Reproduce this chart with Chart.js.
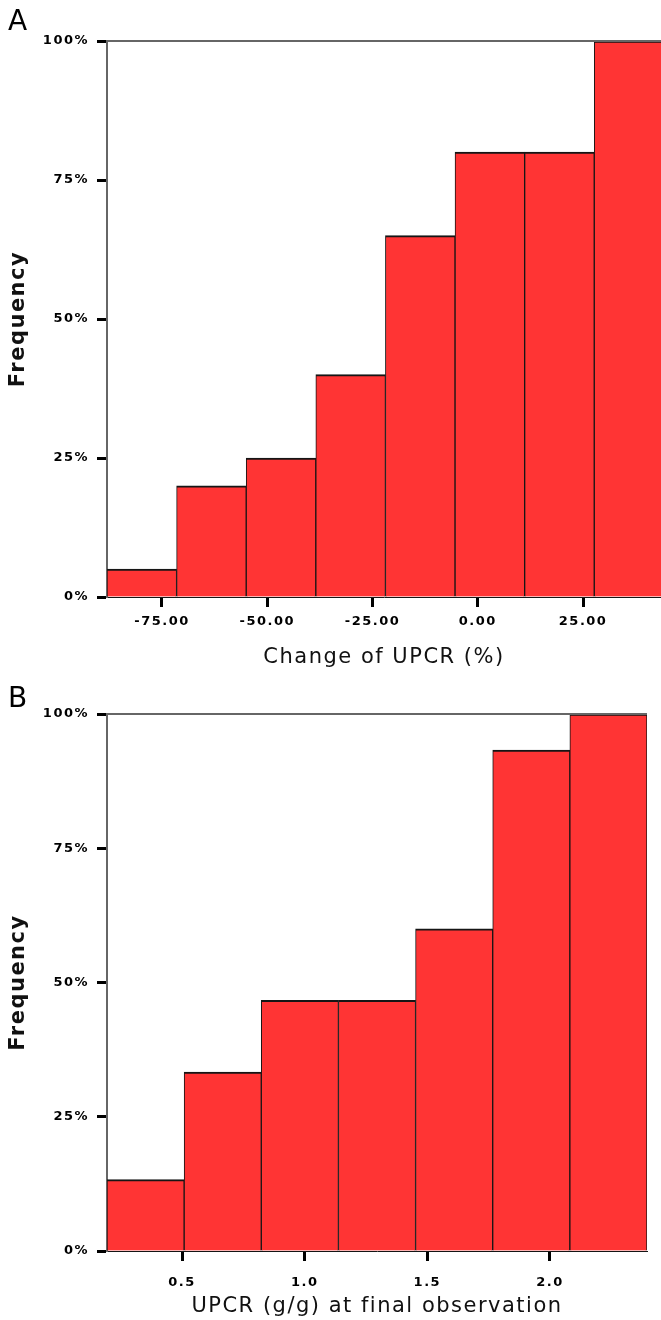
<!DOCTYPE html>
<html>
<head>
<meta charset="utf-8">
<script src="https://cdn.jsdelivr.net/npm/chart.js@4.4.0/dist/chart.umd.min.js"></script>
<style>
  body { margin: 0; background: #fff; }
  canvas { display: block; }
</style>
</head>
<body>
<canvas id="chartA" width="661" height="680"></canvas>
<canvas id="chartB" width="661" height="640"></canvas>
<script>
// panel A: change of UPCR (%), cumulative frequency
const edgesA = [-88.06, -71.53, -55.00, -38.47, -21.94, -5.41, 11.12, 27.65, 44.18];
const freqA = [5, 20, 25, 40, 65, 80, 80, 100];
const xTicksA = [-75, -50, -25, 0, 25];

// panel B: UPCR (g/g) at final observation
const edgesB = [0.194, 0.5085, 0.823, 1.1375, 1.452, 1.7665, 2.081, 2.3955];
const freqB = [13.3, 33.3, 46.7, 46.7, 60, 93.3, 100];
const xTicksB = [0.5, 1.0, 1.5, 2.0];

const yTicks = [0, 25, 50, 75, 100];

const spacing = {
    id: 'spacing',
    beforeUpdate(c) { c.ctx.letterSpacing = '1.5px'; },
    beforeDraw(c) { c.ctx.letterSpacing = '1.5px'; }
};

const topLine = {
    id: 'topLine',
    afterDraw(c) {
        const a = c.chartArea, ctx = c.ctx;
        ctx.save();
        ctx.strokeStyle = '#666';
        ctx.lineWidth = 2;
        ctx.beginPath();
        ctx.moveTo(a.left - 1, a.top);
        ctx.lineTo(a.right, a.top);
        ctx.stroke();
        ctx.restore();
    }
};

function histogram(id, o) {
    const pts = o.freq.map((v, i) => ({x: (o.edges[i] + o.edges[i + 1]) / 2, y: v}));
    return new Chart(document.getElementById(id), {
        type: 'bar',
        data: {
            datasets: [{
                data: pts,
                backgroundColor: '#ff3434',
                borderColor: '#151515',
                borderWidth: {top: 2, left: 1, right: 1, bottom: 0},
                borderSkipped: false,
                barPercentage: 1,
                categoryPercentage: 1
            }]
        },
        options: {
            responsive: false,
            animation: false,
            layout: {padding: {left: 8, right: o.padRight, top: 0, bottom: 0}},
            plugins: {
                legend: {display: false},
                tooltip: {enabled: false},
                title: {
                    display: true,
                    text: o.letter,
                    align: 'start',
                    color: '#000',
                    font: {family: 'DejaVu Sans', size: 28, weight: 'normal', lineHeight: 1},
                    padding: {top: o.letterTop, bottom: o.letterBottom}
                }
            },
            scales: {
                x: {
                    type: 'linear',
                    offset: false,
                    min: o.edges[0],
                    max: o.xMax,
                    afterBuildTicks: s => { s.ticks = o.xTicks.map(v => ({value: v})); },
                    afterFit: s => { s.height = o.xHeight; },
                    ticks: {
                        color: '#000',
                        padding: o.xTickPad,
                        maxRotation: 0,
                        font: {family: 'DejaVu Sans', size: 13, weight: 'bold'},
                        callback: v => v.toFixed(o.dec)
                    },
                    grid: {offset: false, drawOnChartArea: false, tickLength: 10, tickColor: '#000', tickWidth: 3},
                    border: {display: true, color: '#151515', width: 1},
                    title: {
                        display: true,
                        text: o.xTitle,
                        color: '#111',
                        font: {family: 'DejaVu Sans', size: 21},
                        padding: {top: 0, bottom: o.xTitlePad}
                    }
                },
                y: {
                    min: 0,
                    max: 100,
                    afterBuildTicks: s => { s.ticks = yTicks.map(v => ({value: v})); },
                    afterFit: s => { s.width = 99; },
                    ticks: {
                        color: '#000',
                        padding: 8,
                        font: {family: 'DejaVu Sans', size: 13, weight: 'bold'},
                        callback: v => v + '%'
                    },
                    grid: {offset: false, drawOnChartArea: false, tickLength: 10, tickColor: '#000', tickWidth: 3},
                    border: {display: true, color: '#666', width: 2},
                    title: {
                        display: true,
                        text: 'Frequency',
                        color: '#111',
                        font: {family: 'DejaVu Sans', size: 21, weight: 'bold', lineHeight: 1},
                        padding: 0
                    }
                }
            }
        },
        plugins: [spacing, topLine]
    });
}

histogram('chartA', {
    edges: edgesA, freq: freqA, xTicks: xTicksA, xMax: 43.5, dec: 2,
    letter: 'A', letterTop: 9, letterBottom: 4, padRight: 0,
    xTitle: 'Change of UPCR (%)', xHeight: 83, xTickPad: 7, xTitlePad: 10
});

histogram('chartB', {
    edges: edgesB, freq: freqB, xTicks: xTicksB, xMax: 2.3955, dec: 1,
    letter: 'B', letterTop: 6, letterBottom: 0, padRight: 14,
    xTitle: 'UPCR (g/g) at final observation', xHeight: 69, xTickPad: 14, xTitlePad: 1
});
</script>
</body>
</html>
